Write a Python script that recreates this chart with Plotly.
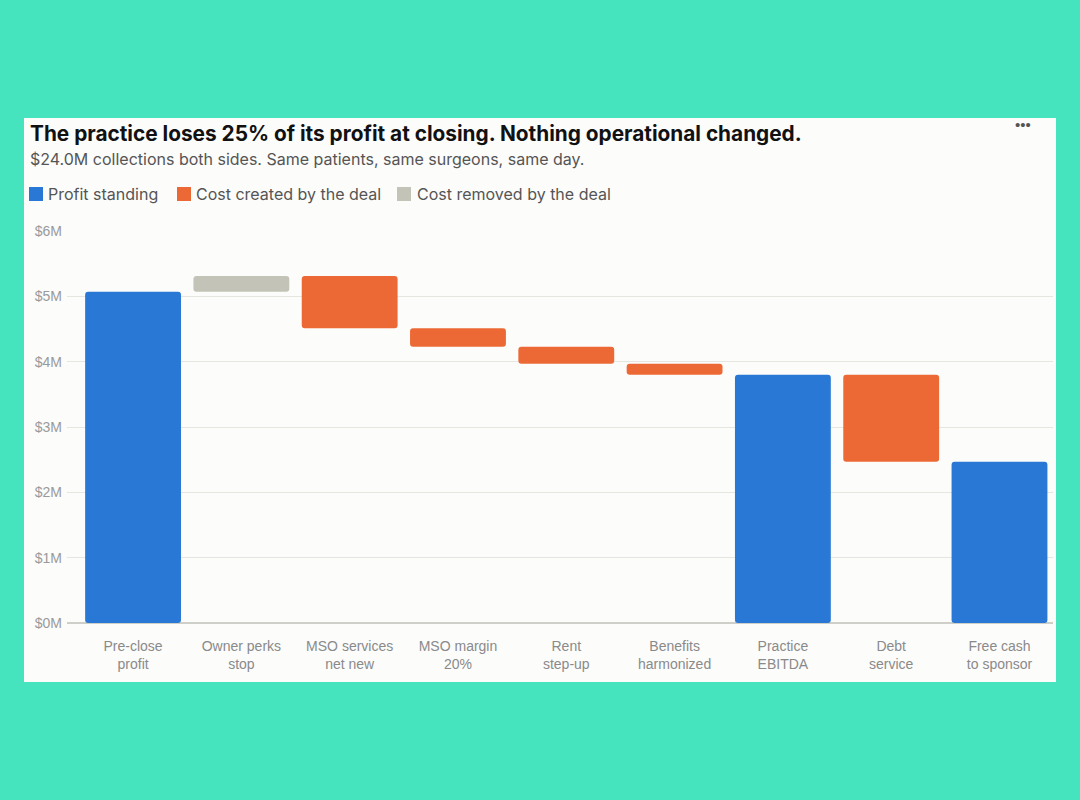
import plotly.graph_objects as go

# ------------------------------------------------------------
# Data ($M)
# ------------------------------------------------------------
categories = [
    "Pre-close<br>profit",
    "Owner perks<br>stop",
    "MSO services<br>net new",
    "MSO margin<br>20%",
    "Rent<br>step-up",
    "Benefits<br>harmonized",
    "Practice<br>EBITDA",
    "Debt<br>service",
    "Free cash<br>to sponsor",
]
changes = [5.07, 0.24, -0.80, -0.28, -0.26, -0.17, None, -1.33, None]
measures = ["absolute", "relative", "relative", "relative", "relative",
            "relative", "total", "relative", "total"]

y_ticks = [0, 1, 2, 3, 4, 5, 6]
y_tick_labels = ["$0M", "$1M", "$2M", "$3M", "$4M", "$5M", "$6M"]

BLUE = "#2A78D5"
ORANGE = "#EC6935"
GRAY = "#C4C3B7"
TEAL = "#45E3BE"
CARD = "#FCFCFB"

# ------------------------------------------------------------
# Split steps into the three legend groups
# ------------------------------------------------------------
groups = {
    "Profit standing": ([], [], [], BLUE),
    "Cost created by the deal": ([], [], [], ORANGE),
    "Cost removed by the deal": ([], [], [], GRAY),
}
level = 0.0
for cat, ch, m in zip(categories, changes, measures):
    if m == "absolute":
        level = ch
        key, base, height = "Profit standing", 0, ch
    elif m == "total":
        key, base, height = "Profit standing", 0, level
    elif ch >= 0:
        key, base, height = "Cost removed by the deal", level, ch
        level += ch
    else:
        key, base, height = "Cost created by the deal", level + ch, -ch
        level += ch
    groups[key][0].append(cat)
    groups[key][1].append(height)
    groups[key][2].append(base)

fig = go.Figure()
for name, (xs, ys, bases, color) in groups.items():
    fig.add_trace(
        go.Bar(
            x=xs,
            y=ys,
            base=bases,
            name=name,
            marker=dict(color=color, line=dict(width=0)),
            hovertemplate="%{x}: %{y:.2f}M<extra></extra>",
            showlegend=False,
        )
    )

# ------------------------------------------------------------
# Layout (plot area: x 67-1053, y 231-623 px)
# ------------------------------------------------------------
L, R, T, B = 67, 27, 231, 177
PW, PH = 1080 - L - R, 800 - T - B


def px(x):
    return (x - L) / PW


def py(y):
    return (800 - B - y) / PH


fig.update_layout(
    width=1080,
    height=800,
    autosize=False,
    margin=dict(l=L, r=R, t=T, b=B),
    paper_bgcolor=TEAL,
    plot_bgcolor=CARD,
    barmode="overlay",
    bargap=0.115,
    barcornerradius=3,
    font=dict(family="Liberation Sans, Arial, sans-serif", color="#888888"),
    xaxis=dict(
        type="category",
        categoryorder="array",
        categoryarray=categories,
        range=[-0.61, 8.494],
        showgrid=False,
        showline=False,
        ticks="",
        tickfont=dict(size=14, color="#8A8A8A"),
        ticklabelstandoff=13,
    ),
    yaxis=dict(
        range=[0, 6],
        tickvals=y_ticks,
        ticktext=y_tick_labels,
        gridcolor="#E6E6E1",
        gridwidth=1,
        zeroline=True,
        zerolinecolor="#CFCFCA",
        zerolinewidth=1.5,
        showline=False,
        ticks="",
        tickfont=dict(size=14, color="#9A9A9A"),
        ticklabelstandoff=4,
    ),
    showlegend=False,
)

# white card behind the chart
fig.add_shape(
    type="rect",
    xref="paper", yref="paper",
    x0=px(24), x1=px(1056), y0=py(682), y1=py(118),
    fillcolor=CARD, line=dict(width=0), layer="below",
)

fig.add_annotation(
    xref="paper", yref="paper", x=px(28), y=py(133),
    xanchor="left", yanchor="middle", showarrow=False,
    text="<b>The practice loses 25% of its profit at closing. Nothing operational changed.</b>",
    font=dict(family="Inter, sans-serif", size=20.8, color="#111111"),
)
fig.add_annotation(
    xref="paper", yref="paper", x=px(28), y=py(159),
    xanchor="left", yanchor="middle", showarrow=False,
    text="$24.0M collections both sides. Same patients, same surgeons, same day.",
    font=dict(family="Inter, sans-serif", size=16, color="#555555"),
)
fig.add_annotation(
    xref="paper", yref="paper", x=px(1023), y=py(125),
    xanchor="center", yanchor="middle", showarrow=False,
    text="•••",
    font=dict(size=15, color="#555555"),
)

# legend row: swatch + label for each group
legend_pos = [(29, 46), (177, 194), (397, 415)]
for (sx, tx), (name, (_, _, _, color)) in zip(legend_pos, groups.items()):
    fig.add_shape(
        type="rect",
        xref="paper", yref="paper",
        x0=px(sx), x1=px(sx + 14), y0=py(201), y1=py(187),
        fillcolor=color, line=dict(width=0),
    )
    fig.add_annotation(
        xref="paper", yref="paper", x=px(tx), y=py(194),
        xanchor="left", yanchor="middle", showarrow=False,
        text=name,
        font=dict(family="Inter, sans-serif", size=16, color="#555555"),
    )

fig.write_html(
    "out.html",
    config={"displayModeBar": False},
    post_script="document.body.style.margin='0';",
)
